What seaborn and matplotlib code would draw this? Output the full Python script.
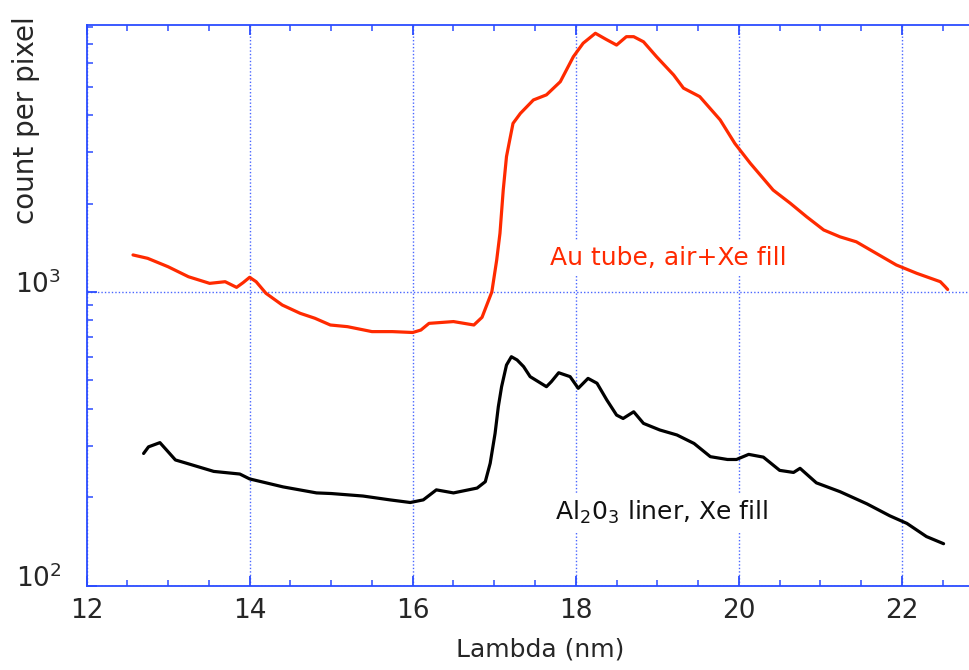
import numpy as np
import pandas as pd
import seaborn as sns
from matplotlib import pyplot as plt
import matplotlib.ticker as mtick
from matplotlib.transforms import ScaledTranslation

# Au tube, air+Xe fill (red)
au_lambda = [12.57, 12.75, 13.0, 13.25, 13.51, 13.70, 13.84, 13.92, 14.0, 14.08,
             14.2, 14.4, 14.62, 14.8, 14.99, 15.2, 15.5, 15.75, 16.0, 16.1,
             16.2, 16.5, 16.75, 16.85, 16.97, 17.03, 17.07, 17.11, 17.15, 17.19,
             17.23, 17.32, 17.48, 17.64, 17.81, 17.97, 18.09, 18.24, 18.37, 18.50,
             18.62, 18.71, 18.83, 18.99, 19.20, 19.32, 19.52, 19.77, 19.95, 20.14,
             20.42, 20.63, 20.83, 21.04, 21.24, 21.44, 21.65, 21.93, 22.18, 22.47,
             22.53, 22.56]
au_count = [1337, 1302, 1219, 1127, 1070, 1084, 1037, 1076, 1122, 1084,
            990, 903, 846, 814, 772, 762, 733, 733, 728, 742,
            782, 793, 772, 820, 1000, 1285, 1584, 2223, 2890, 3296,
            3750, 4055, 4506, 4690, 5200, 6325, 7030, 7600, 7250, 6930,
            7400, 7400, 7110, 6325, 5480, 4945, 4625, 3855, 3205, 2742,
            2223, 2005, 1804, 1626, 1541, 1482, 1371, 1236, 1158, 1084,
            1042, 1020]

# Al2O3 liner, Xe fill (black)
al_lambda = [12.70, 12.76, 12.90, 12.98, 13.09, 13.23, 13.56, 13.88, 14.0, 14.41,
             14.82, 15.0, 15.39, 15.72, 15.97, 16.13, 16.29, 16.50, 16.79, 16.89,
             16.95, 17.01, 17.05, 17.09, 17.15, 17.21, 17.28, 17.36, 17.44, 17.64,
             17.70, 17.79, 17.93, 18.03, 18.15, 18.26, 18.38, 18.50, 18.58, 18.71,
             18.83, 19.03, 19.24, 19.45, 19.65, 19.86, 19.97, 20.12, 20.30, 20.50,
             20.67, 20.75, 20.95, 21.24, 21.57, 21.85, 22.06, 22.30, 22.51]
al_count = [282, 297, 307, 290, 268, 261, 245, 240, 231, 217,
            207, 206, 202, 196, 192, 196, 212, 207, 215, 226,
            261, 330, 407, 476, 564, 602, 587, 557, 515, 476,
            495, 531, 515, 470, 508, 489, 429, 381, 371, 391,
            357, 339, 326, 305, 275, 269, 269, 280, 274, 247,
            243, 251, 224, 209, 190, 173, 163, 147, 139]

red = '#ff2a00'
blue = '#2b4cff'

sns.set_style('white')
plt.rcParams['font.family'] = ['DejaVu Sans']
plt.rcParams['mathtext.default'] = 'regular'

data = pd.concat([
    pd.DataFrame({'Lambda': au_lambda, 'count': au_count, 'sample': 'Au'}),
    pd.DataFrame({'Lambda': al_lambda, 'count': al_count, 'sample': 'Al2O3'}),
])

fig = plt.figure(figsize=(9.7, 6.7), dpi=100)
ax = fig.add_axes([0.0892, 0.1258, 0.9108, 0.8369])

sns.lineplot(data=data, x='Lambda', y='count', hue='sample', estimator=None, sort=False,
             palette={'Au': red, 'Al2O3': 'black'}, linewidth=2.3, legend=False, ax=ax)

ax.set_yscale('log')
ax.set_xlim(12, 22.834)
ax.set_ylim(100, 8110)

ax.xaxis.set_major_locator(mtick.MultipleLocator(2))
ax.xaxis.set_minor_locator(mtick.MultipleLocator(0.5))
ax.yaxis.set_major_locator(mtick.FixedLocator([100, 1000]))
ax.yaxis.set_minor_locator(mtick.LogLocator(base=10, subs=np.arange(2, 10)))
ax.yaxis.set_major_formatter(mtick.LogFormatterMathtext())
ax.yaxis.set_minor_formatter(mtick.NullFormatter())

for side in ['left', 'bottom', 'top']:
    ax.spines[side].set_color(blue)
    ax.spines[side].set_linewidth(1.3)
ax.spines['right'].set_visible(False)

ax.tick_params(axis='x', which='both', direction='in', top=True, bottom=True, color=blue,
               labelsize=19, pad=9)
ax.tick_params(axis='x', which='major', length=7, width=1.3)
ax.tick_params(axis='x', which='minor', length=4, width=1.1)
ax.tick_params(axis='y', which='both', direction='in', left=True, right=False, color=blue,
               labelsize=19, pad=18)
ax.tick_params(axis='y', which='major', length=7, width=1.3)
ax.tick_params(axis='y', which='minor', length=4, width=1.1)

ax.grid(True, which='major', linestyle=(0, (1, 1.5)), color='#4a66ff', linewidth=1.0)
ax.set_axisbelow(True)

# shift y tick labels up a little, like the original
offset = ScaledTranslation(0, 0.1, fig.dpi_scale_trans)
for lab in ax.get_yticklabels():
    lab.set_transform(lab.get_transform() + offset)

ax.set_xlabel('Lambda (nm)', fontsize=18)
ax.set_ylabel('count per pixel', fontsize=20)
ax.xaxis.set_label_coords(0.513, -0.093)
ax.yaxis.set_label_coords(-0.053, 0.83)

ax.text(17.68, 1306, 'Au tube, air+Xe fill', color=red, fontsize=18, va='center', ha='left',
        bbox=dict(fc='white', ec='none', pad=4))
ax.text(17.74, 177, r'Al$_{2}$0$_{3}$ liner, Xe fill', color='#111111', fontsize=18,
        va='center', ha='left', bbox=dict(fc='white', ec='none', pad=4))

fig.savefig('out.png', dpi=100)
